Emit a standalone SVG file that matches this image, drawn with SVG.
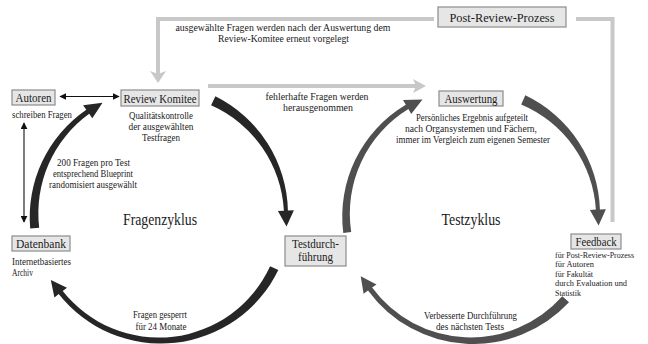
<svg xmlns="http://www.w3.org/2000/svg" width="648" height="344" viewBox="0 0 648 344">
<style>
text{font-family:"Liberation Serif","Times New Roman",serif;fill:#1a1a1a}
.box{fill:#e6e6e6;stroke:#8c8c8c;stroke-width:1.2}
.t{font-size:12.5px;text-anchor:middle}
.d{font-size:10px}
.f{font-size:9px}
.c{text-anchor:middle}
.g{fill:none;stroke:#c8c8c8;stroke-width:4}
.gh{fill:#c8c8c8}
.thin{stroke:#111;stroke-width:1.1;fill:none}
.fa{fill:#262626}
.ta{fill:#4f4f4f}
</style>
<defs>
<marker id="ah" viewBox="0 0 10 10" refX="9" refY="5" markerWidth="7" markerHeight="7" markerUnits="userSpaceOnUse" orient="auto-start-reverse">
<path d="M0 0 L10 5 L0 10 Z" fill="#111"/>
</marker>
</defs>

<g id="connectors">
<!-- gray feedback loop -->
<polyline class="g" points="612.5,222 612.5,19 576,19"/>
<polyline class="g" points="434,19 158,19 158,74"/>
<path class="gh" d="M150 71 L158 83 L166 71 L158 74 Z"/>
<line class="g" x1="208" y1="86" x2="416" y2="86"/>
<path class="gh" d="M413 79 L426 86 L413 93 L416 86 Z"/>
<!-- thin arrows -->
<line class="thin" x1="60" y1="96.5" x2="119" y2="96.5" marker-start="url(#ah)" marker-end="url(#ah)"/>
<line class="thin" x1="24" y1="123" x2="24" y2="222" marker-start="url(#ah)" marker-end="url(#ah)"/>
<!-- Fragenzyklus arcs -->
<path class="fa" d="M30.2 228.6 A130.5 130.5 0 0 1 86.3 109.7 L83.1 105.2 L102.5 102.8 L92.3 118.3 L89.2 113.8 A122.5 122.5 0 0 0 39.2 227.7 Z"/>
<path class="fa" d="M215.4 96.3 A131 131 0 0 1 287.9 210.5 L293.9 210.3 L286.5 226.6 L277.9 210.9 L283.9 210.7 A122.5 122.5 0 0 0 211.1 105.3 Z"/>
<path class="fa" d="M278.3 270.1 A130.5 130.5 0 0 1 58.7 294.1 L54.4 297.5 L50.8 280.0 L67.0 287.7 L62.7 291.0 A122.5 122.5 0 0 0 270.1 266.3 Z"/>
<!-- Testzyklus arcs -->
<path class="ta" d="M343.3 233.1 A130 130 0 0 1 405.8 104.8 L403.0 100.1 L422.5 99.5 L411.2 113.9 L408.4 109.1 A122.5 122.5 0 0 0 351.2 232.0 Z"/>
<path class="ta" d="M525.3 95.3 A131 131 0 0 1 599.9 209.4 L605.9 209.2 L598.6 225.5 L589.9 209.9 L595.9 209.6 A122.5 122.5 0 0 0 521.2 104.5 Z"/>
<path class="ta" d="M569.0 302.3 A130.5 130.5 0 0 1 368.0 290.5 L363.6 293.8 L360.7 276.2 L376.5 284.4 L372.1 287.6 A122.5 122.5 0 0 0 562.3 296.3 Z"/>
<!-- connector labels -->
<text class="d c" x="283" y="31" textLength="215" lengthAdjust="spacingAndGlyphs">ausgewählte Fragen werden nach der Auswertung dem</text>
<text class="d c" x="283.5" y="42" textLength="131" lengthAdjust="spacingAndGlyphs">Review-Komitee erneut vorgelegt</text>
<text class="d c" x="317" y="100" textLength="103" lengthAdjust="spacingAndGlyphs">fehlerhafte Fragen werden</text>
<text class="d c" x="318" y="111" textLength="70" lengthAdjust="spacingAndGlyphs">herausgenommen</text>
<text class="d c" x="93.5" y="166" textLength="73" lengthAdjust="spacingAndGlyphs">200 Fragen pro Test</text>
<text class="d c" x="93" y="177" textLength="80" lengthAdjust="spacingAndGlyphs">entsprechend Blueprint</text>
<text class="d c" x="93" y="188" textLength="88" lengthAdjust="spacingAndGlyphs">randomisiert ausgewählt</text>
<text class="d c" x="160" y="318" textLength="54" lengthAdjust="spacingAndGlyphs">Fragen gesperrt</text>
<text class="d c" x="161" y="330" textLength="51" lengthAdjust="spacingAndGlyphs">für 24 Monate</text>
<text class="d c" x="470.5" y="319" textLength="93" lengthAdjust="spacingAndGlyphs">Verbesserte Durchführung</text>
<text class="d c" x="470" y="330" textLength="68" lengthAdjust="spacingAndGlyphs">des nächsten Tests</text>
</g>

<g id="cycle-labels">
<text x="160" y="225" text-anchor="middle" font-size="16" textLength="74" lengthAdjust="spacingAndGlyphs">Fragenzyklus</text>
<text x="471" y="225" text-anchor="middle" font-size="16" textLength="59" lengthAdjust="spacingAndGlyphs">Testzyklus</text>
</g>

<g id="node-post-review">
<rect class="box" x="438" y="7" width="128" height="20"/>
<text x="502" y="22" text-anchor="middle" font-size="13.5" textLength="105" lengthAdjust="spacingAndGlyphs">Post-Review-Prozess</text>
</g>

<g id="node-autoren">
<rect class="box" x="12" y="90" width="43" height="15"/>
<text class="t" x="33.5" y="102" textLength="36" lengthAdjust="spacingAndGlyphs">Autoren</text>
<text class="d" x="12" y="118" textLength="60" lengthAdjust="spacingAndGlyphs">schreiben Fragen</text>
</g>

<g id="node-review">
<rect class="box" x="121" y="90" width="78" height="16"/>
<text class="t" x="160" y="102.5" textLength="73" lengthAdjust="spacingAndGlyphs">Review Komitee</text>
<text class="d c" x="161" y="119" textLength="64" lengthAdjust="spacingAndGlyphs">Qualitätskontrolle</text>
<text class="d c" x="161" y="130" textLength="65" lengthAdjust="spacingAndGlyphs">der ausgewählten</text>
<text class="d c" x="161" y="141" textLength="38" lengthAdjust="spacingAndGlyphs">Testfragen</text>
</g>

<g id="node-datenbank">
<rect class="box" x="12" y="236" width="58" height="15"/>
<text class="t" x="41" y="248" textLength="50" lengthAdjust="spacingAndGlyphs">Datenbank</text>
<text class="d" x="12" y="265" textLength="59" lengthAdjust="spacingAndGlyphs">Internetbasiertes</text>
<text class="d" x="12" y="276" textLength="21" lengthAdjust="spacingAndGlyphs">Archiv</text>
</g>

<g id="node-testdurchfuehrung">
<rect class="box" x="285" y="236" width="61" height="30"/>
<text class="t" x="315.5" y="248" textLength="47" lengthAdjust="spacingAndGlyphs">Testdurch-</text>
<text class="t" x="315.5" y="261" textLength="35" lengthAdjust="spacingAndGlyphs">führung</text>
</g>

<g id="node-auswertung">
<rect class="box" x="439" y="91" width="64" height="15"/>
<text class="t" x="471" y="103" textLength="53" lengthAdjust="spacingAndGlyphs">Auswertung</text>
<text class="d c" x="472" y="121" textLength="112" lengthAdjust="spacingAndGlyphs">Persönliches Ergebnis aufgeteilt</text>
<text class="d c" x="471" y="132" textLength="132" lengthAdjust="spacingAndGlyphs">nach Organsystemen und Fächern,</text>
<text class="d c" x="473" y="143" textLength="154" lengthAdjust="spacingAndGlyphs">immer im Vergleich zum eigenen Semester</text>
</g>

<g id="node-feedback">
<rect class="box" x="571" y="234" width="50" height="15"/>
<text class="t" x="596" y="246" textLength="41" lengthAdjust="spacingAndGlyphs">Feedback</text>
<text class="f" x="555" y="257.5" textLength="79" lengthAdjust="spacingAndGlyphs">für Post-Review-Prozess</text>
<text class="f" x="555" y="267" textLength="39" lengthAdjust="spacingAndGlyphs">für Autoren</text>
<text class="f" x="555" y="276.5" textLength="38" lengthAdjust="spacingAndGlyphs">für Fakultät</text>
<text class="f" x="555" y="286" textLength="72" lengthAdjust="spacingAndGlyphs">durch Evaluation und</text>
<text class="f" x="555" y="295.5" textLength="26" lengthAdjust="spacingAndGlyphs">Statistik</text>
</g>
</svg>
